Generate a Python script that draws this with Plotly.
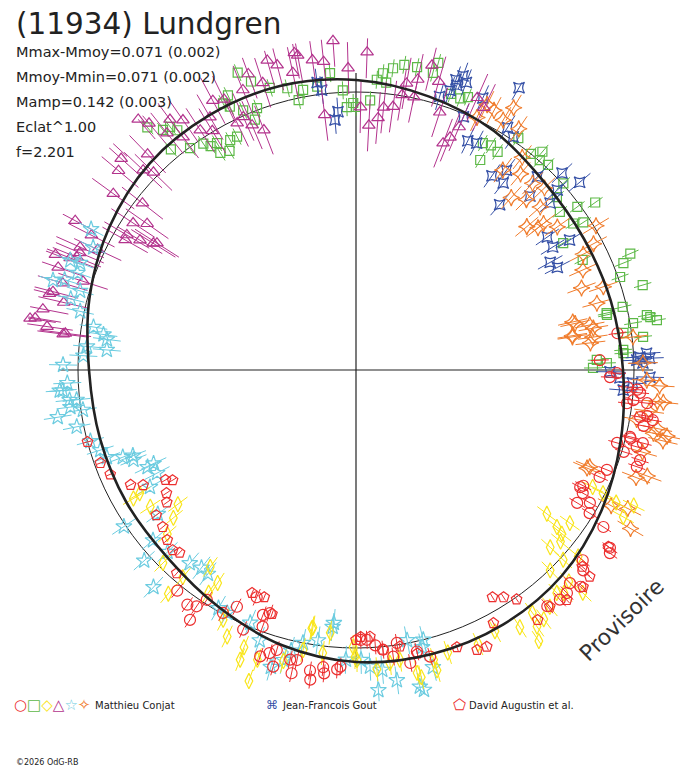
import plotly.graph_objects as go

W, H = 688, 768

# angle in degrees (counter-clockwise from the right), radius in chart units
MAG_ANG = [101, 100.5, 106, 98, 96, 91.5, 102, 104.5, 108, 97, 89, 87, 85, 84, 82, 80.5, 76, 78, 80, 111, 113, 68, 69, 67,
           72, 66, 64, 78, 112, 116, 124.7, 126.6, 130, 131, 138, 137, 136.8, 135.7, 123, 121, 114, 115.7, 126.6, 128.6,
           142, 148, 146.6, 145, 150.6, 149, 153, 156, 161, 169, 171, 173, 166, 163.5, 158, 155, 165.5, 170.8, 172,
           172.8, 157, 158.6, 149.5, 147.5, 162, 120, 118, 134, 140, 144, 152, 159, 167, 110, 94, 88, 74]
MAG_R = [323, 320, 322, 313, 310, 302, 304, 315, 302, 257, 263, 245, 253, 264, 266, 279, 314, 297, 291, 257, 266, 251, 243,
         264, 271, 298, 292, 279, 302, 301, 304, 312, 322, 332, 316, 339, 292, 283, 286, 279, 277, 274, 290, 303, 271,
         239, 267, 255, 265, 252, 297, 302, 315, 319, 330, 295, 316, 306, 301, 285, 313, 325, 312, 293, 300, 307, 266,
         236, 287, 292, 305, 300, 310, 300, 318, 322, 300, 315, 330, 318, 300]

GRN_ANG = [111.7, 110, 115, 116.5, 115.6, 107, 103.7, 100.7, 97.8, 95, 92.7, 92, 90.6, 102, 113.5, 110.7, 112, 117, 118.7,
           122, 123, 124, 126.8, 130, 128.8, 130.7, 127.4, 126.7, 120, 121.5, 83, 81, 78.6, 75, 75.5, 84.8, 85.9, 84, 87,
           90, 71, 69, 67.7, 60.8, 59.4, 59, 57, 55, 51, 49.5, 48.8, 46.9, 42, 40.7, 37.8, 36.4, 35, 34, 33, 31.5, 25.9,
           23, 21.8, 19.4, 16.5, 12.8, 13.3, 9.6, 10.2, 9.4, 6.6, 7.9, 4.3, 2.4, 1.6, 0.5, 3.6, 10.7, 12.4]
GRN_R = [320, 307, 303, 298, 292, 295, 290, 285, 286, 298, 280, 263, 267, 276, 283, 280, 270, 262, 262, 256, 267, 273, 277,
         288, 308, 320, 306, 299, 253, 266, 304, 309, 309, 318, 307, 298, 291, 289, 270, 263, 292, 291, 295, 260, 244, 262,
         260, 283, 278, 287, 279, 281, 279, 265, 258, 275, 292, 262, 271, 243, 252, 298, 288, 280, 299, 257, 274, 281, 299,
         305, 289, 270, 268, 241, 251, 237, 268, 296, 257]

BLU_ANG = [70, 70.5, 69, 71.4, 73, 60, 64, 62, 58, 56, 55, 51.8, 49, 46.8, 43.7, 40, 41.8, 40.7, 34.8, 32, 31.3, 29, 27, 2,
           2.3, 97, 94, 94.8, 97.7, 71, 67, -0.4, -1.7, -1.4, 2.6, 3.3, -4.3, -2.7, 1.4, 65, 53, 45]
BLU_R = [313, 302, 308, 295, 286, 326, 255, 257, 286, 281, 237, 238, 219, 265, 285, 292, 270, 256, 233, 232, 250, 222, 226,
         281, 294, 282, 259, 251, 290, 307, 275, 254, 264, 294, 284, 291, 268, 277, 287, 300, 250, 246]

ORA_ANG = [59, 62, 63.7, 59.5, 56, 64.4, 48, 45, 38, 53.7, 50, 46.6, 41.5, 40, 38, 35.4, 31, 28, 23.8, 18.6, 15.5, 12, 10, 9,
           6.6, 6.8, 1.4, -3, -6, -13, 12.5, 10.9, 8.7, 7.9, -2, -10, -12, -22.5, -20, -30, -23, -21, -6, -11, -12, -27,
           -28, 52, 44, 27, 20, -16, -8]
ORA_R = [306, 294, 296, 290, 291, 280, 232, 241, 231, 248, 256, 257, 246, 223, 238, 247, 280, 269, 248, 261, 250, 224, 241,
         219, 236, 279, 287, 304, 303, 315, 222, 238, 219, 239, 291, 285, 304, 253, 310, 317, 251, 300, 309, 307, 318, 305,
         289, 270, 262, 255, 240, 298, 296]

RED_ANG = [-27.6, -29.6, -35, -17.6, -11, -7, -0.7, -9, -4, -14, -17, -15.6, -14.3, -19, -21.7, -23.7, -28.5, -31, -31.5,
           -32.4, -35.8, -40, -41.4, -44.9, -44, -46.6, -48.4, -51, 8, 2.3, -1.6, -3.6, -4.6, -6.2, -6.5, -9.6, -9.4,
           -15.3, -13.7, -27, -113.6, -110.8, -109.5, -89, -87.7, -86, -81.5, -77.8, -98.7, -96.3, -93, -102.8, -105.6,
           -108.5, -82.6, -79.5, -75.5, -84.5, -123.6, -125.7, -129, -116.7, -113.5, -110, -105.8, -101.5, -98.4, -96,
           -93.6, -118.7, -123, -124, -102, -107]
RED_R = [253, 269, 310, 298, 293, 273, 261, 295, 282, 283, 280, 271, 296, 297, 270, 266, 258, 258, 274, 293, 313, 296, 303,
         302, 312, 307, 307, 304, 264, 244, 254, 272, 285, 279, 293, 301, 288, 291, 282, 255, 248, 262, 258, 270, 270, 276,
         276, 288, 304, 299, 297, 297, 308, 302, 289, 298, 296, 281, 300, 289, 284, 265, 283, 273, 291, 296, 313, 305, 300,
         277, 274, 285, 310, 296]

PEN_ANG = [-165, -160, -157, -153, -151.6, -150, -149, -147, -145, -144, -140.9, -138, -134, -135.5, -131.4, -115, -112,
           -109, -59, -57, -55, -61.5, -66.6, -70, -64.7, -41, -35, -41.5, -43.7, -47.5, -50.7, -54, -77.8, -81, -84.5,
           -87, -89, -90]
PEN_R = [278, 272, 267, 253, 242, 220, 214, 226, 231, 247, 249, 254, 254, 257, 271, 246, 245, 258, 265, 271, 280, 288, 305,
         295, 306, 300, 308, 312, 314, 312, 306, 309, 290, 280, 281, 267, 267, 270]

YEL_ANG = [-37, -40, -56, -44.5, -26, -38, -38.5, -35.6, -42.4, -42.5, -44.8, -47, -50.7, -53, -54.8, -54, -26.5, -27,
           -28.8, -26.3, -40, -45.9, -48, -57.5, -72, -75, -78.6, -74.9, -81.4, -83.4, -150, -150.3, -146.4, -143, -141,
           -139, -130, -135, -129.9, -126.5, -123, -123.5, -118, -115.8, -112, -111.8, -109, -108.8, -99.5, -95.6, -100.7,
           -96.7, -90.6, -89.8, -99.7, -90.2, -78, -104, -86, -66, -62]
YEL_R = [239, 267, 327, 318, 309, 255, 263, 263, 263, 281, 300, 305, 306, 312, 314, 300, 276, 292, 305, 264, 290, 279, 300,
         305, 297, 300, 309, 311, 293, 295, 257, 249, 247, 223, 235, 250, 292, 273, 270, 245, 254, 267, 283, 296, 299, 312,
         329, 306, 261, 264, 285, 285, 277, 290, 262, 287, 314, 300, 300, 300, 296]

CYA_ANG = [179, -176, 173, -171, 158.8, 160.8, 162.8, 164, 166, 168, 170.7, 172, 175.4, 175, 177, -177.4, -173.9, -172.6,
           -171.7, -168.5, -165, -162.6, -159.5, -158, -155, -176, -174, -160.7, -159, -155.2, -152.6, -150.4, -144, -140,
           -138, -133, -128, -130.7, -126, -120, -117.9, -112.7, -109.6, -106, -104, -101, -98, -95, -92, -86, -95.2, -78,
           -79.3, -76, -82.5, -85, -89, -87.3, -103, -76.6, -75.5, -78.6, 155, 152, -146, -136, 163.5, 159]
CYA_R = [293, 297, 251, 302, 296, 295, 305, 287, 294, 282, 266, 255, 250, 270, 273, 289, 281, 288, 276, 285, 275, 268, 249,
         240, 230, 294, 288, 264, 239, 223, 224, 237, 245, 265, 285, 297, 251, 255, 252, 275, 275, 274, 287, 309, 299, 278,
         273, 254, 290, 321, 258, 327, 275, 278, 313, 301, 290, 297, 288, 285, 307, 323, 290, 300, 280, 262, 316, 306]

# error half-lengths per observer series
ERR = {"mag": 26, "grn": 9, "blu": 14, "ora": 15, "red": 9, "pen": 4, "yel": 12, "cya": 14}

# fitted curve, read every 15 degrees
FIT_ANG = [0, 15, 30, 45, 60, 75, 90, 105, 120, 135, 150, 165, 180, 195, 210, 225, 240, 255, 270, 285, 300, 315, 330, 345]
FIT_R = [267, 264, 263, 266, 276, 283, 290, 294, 294, 292, 285, 276, 267, 265, 265, 266, 274, 285, 292, 294, 294, 291, 283,
         274]

REF_R = 278
AXIS_LEN = 297
R_MAX = 332

STATS = ["Mmax-Mmoy=0.071 (0.002)", "Mmoy-Mmin=0.071 (0.002)", "Mamp=0.142 (0.003)", "Eclat^1.00", "f=2.201"]

FONT = "DejaVu Sans"
INK = "#222222"
OFF = 8  # the page body adds an 8 px margin around the figure

series = [
    (GRN_ANG, GRN_R, ERR["grn"], "square-open", "#5DB947", 9),
    (BLU_ANG, BLU_R, ERR["blu"], "star-square-open", "#3550A6", 10),
    (ORA_ANG, ORA_R, ERR["ora"], "star-diamond-open", "#F07C2C", 12),
    (MAG_ANG, MAG_R, ERR["mag"], "triangle-up-open", "#B3338D", 11),
    (CYA_ANG, CYA_R, ERR["cya"], "star-open", "#6CCCE0", 12),
    (YEL_ANG, YEL_R, ERR["yel"], "diamond-tall-open", "#F9E51A", 11),
    (RED_ANG, RED_R, ERR["red"], "circle-open", "#EC2F2F", 11),
    (PEN_ANG, PEN_R, ERR["pen"], "pentagon-open", "#EC2F2F", 11),
]


def bars(ang, r, e):
    th, rr = [], []
    for a, v in zip(ang, r):
        th += [a, a, None]
        rr += [v - e, v + e, None]
    return th, rr


fig = go.Figure()

# cross through the centre
fig.add_trace(go.Scatterpolar(r=[AXIS_LEN, 0, AXIS_LEN, None, AXIS_LEN, 0, AXIS_LEN],
                              theta=[0, 0, 180, None, 90, 90, 270],
                              mode="lines", line=dict(color=INK, width=1.2), hoverinfo="skip"))

for ang, r, e, sym, col, size in series:
    th, rr = bars(ang, r, e)
    fig.add_trace(go.Scatterpolar(r=rr, theta=th, mode="lines", line=dict(color=col, width=1),
                                  hoverinfo="skip"))
    fig.add_trace(go.Scatterpolar(r=r, theta=ang, mode="markers", cliponaxis=False,
                                  marker=dict(symbol=sym, size=size, color=col, line=dict(color=col, width=1.2)),
                                  hoverinfo="skip"))

fig.add_trace(go.Scatterpolar(r=FIT_R + FIT_R[:1], theta=FIT_ANG + FIT_ANG[:1], mode="lines",
                              line=dict(color=INK, width=2.6, shape="spline"), hoverinfo="skip"))

# place the polar disc so its centre lands on (356, 370) of the page
cx, cy = 356 - OFF, 370 - OFF
fig.update_layout(
    width=W, height=H, margin=dict(l=0, r=0, t=0, b=0),
    paper_bgcolor="white", showlegend=False,
    polar=dict(
        domain=dict(x=[(cx - R_MAX) / W, (cx + R_MAX) / W],
                    y=[1 - (cy + R_MAX) / H, 1 - (cy - R_MAX) / H]),
        bgcolor="rgba(0,0,0,0)",
        radialaxis=dict(range=[0, R_MAX], tickvals=[REF_R], showticklabels=False, ticks="", showline=False,
                        showgrid=True, gridcolor=INK, gridwidth=1),
        angularaxis=dict(showgrid=False, showticklabels=False, ticks="", showline=False, rotation=0,
                         direction="counterclockwise"),
    ),
)


def ann(text, x, y, size, **kw):
    fig.add_annotation(text=text, x=(x - OFF) / W, y=1 - (y - OFF) / H, xref="paper", yref="paper",
                       showarrow=False, font=dict(family=FONT, size=size, color=kw.pop("color", INK)), **kw)


ann("(11934) Lundgren", 14, 24, 29.5, xanchor="left", yanchor="middle")
for i, line in enumerate(STATS):
    ann(line, 14, 52 + 25 * i, 14.5, xanchor="left", yanchor="middle")

ann("Provisoire", 621, 620, 22, textangle=-44, color="#333333", xanchor="center", yanchor="middle")

conjat_keys = "".join(f"<span style='color:{c}'>{s}</span>" for s, c in
                      [("○", "#EC2F2F"), ("□", "#5DB947"), ("◇", "#F9E51A"), ("△", "#B3338D"),
                       ("☆", "#6CCCE0"), ("✧", "#F07C2C")])
ann(conjat_keys, 12, 705, 15, xanchor="left", yanchor="middle")
ann("Matthieu Conjat", 93, 705, 10, xanchor="left", yanchor="middle")
ann("<span style='color:#3550A6'>⌘</span>", 264, 705, 12, xanchor="left", yanchor="middle")
ann("Jean-Francois Gout", 280, 705, 10, xanchor="left", yanchor="middle")
ann("<span style='color:#EC2F2F'>⬠</span>", 451, 705, 15, xanchor="left", yanchor="middle")
ann("David Augustin et al.", 467, 705, 10, xanchor="left", yanchor="middle")
ann("©2026 OdG-RB", 14, 762, 8, xanchor="left", yanchor="middle")

fig.write_html("out.html")
